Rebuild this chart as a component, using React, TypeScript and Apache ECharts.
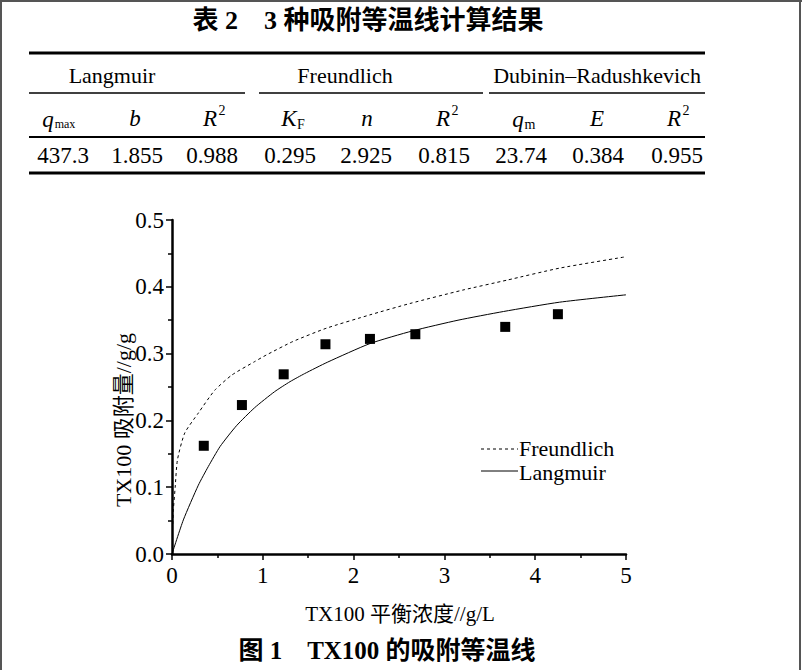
import React, { useEffect, useRef } from "react";
import * as echarts from "echarts";

// ---- table data ----
const TABLE_TITLE = "表 2　3 种吸附等温线计算结果";
const GROUPS = ["Langmuir", "Freundlich", "Dubinin–Radushkevich"];
const PARAM_VALUES = ["437.3", "1.855", "0.988", "0.295", "2.925", "0.815", "23.74", "0.384", "0.955"];

// ---- chart data ----
const EXP_C = [0.35, 0.77, 1.23, 1.69, 2.18, 2.68, 3.67, 4.25];
const EXP_Q = [0.162, 0.223, 0.269, 0.314, 0.322, 0.329, 0.34, 0.359];

const LANG_C = [0, 0.125, 0.29, 0.4, 0.53, 0.71, 0.91, 1.13, 1.3, 1.46, 1.71, 2.18, 2.65, 3.15, 3.65, 4.27, 5.0];
const LANG_Q = [0, 0.051, 0.103, 0.131, 0.161, 0.192, 0.219, 0.243, 0.258, 0.27, 0.287, 0.315, 0.334, 0.35, 0.363, 0.377, 0.388];

const FREU_C = [0.008, 0.015, 0.035, 0.06, 0.14, 0.29, 0.47, 0.66, 0.91, 1.04, 1.33, 1.7, 2.18, 2.62, 3.2, 3.69, 4.27, 5.0];
const FREU_Q = [0.045, 0.066, 0.1, 0.141, 0.181, 0.211, 0.245, 0.268, 0.288, 0.298, 0.318, 0.338, 0.358, 0.375, 0.395, 0.41, 0.428, 0.445];

const X_NAME = "TX100 平衡浓度//g/L";
const Y_NAME = "TX100 吸附量//g/g";
const CAPTION = "图 1　TX100 的吸附等温线";
const LEGEND = ["Freundlich", "Langmuir"];

const SERIF = "Liberation Serif, Noto Sans CJK SC";

function txt(text: string, x: number, y: number, size: number, opts: any = {}) {
  const style: any = {
    text,
    fill: "#000",
    fontFamily: SERIF,
    fontSize: size,
    align: opts.align || "center",
    verticalAlign: opts.valign || "middle",
  };
  if (opts.italic) style.fontStyle = "italic";
  if (opts.bold) style.fontWeight = "bold";
  return {
    type: "text",
    x,
    y,
    rotation: opts.rotation || 0,
    style,
  };
}

function hline(x1: number, x2: number, y: number, w: number, dash?: number[]) {
  return {
    type: "line",
    shape: { x1, y1: y, x2, y2: y },
    style: { stroke: "#000", lineWidth: w, lineDash: dash },
  };
}

export default function App() {
  const ref = useRef<HTMLDivElement>(null);
  useEffect(() => {
    if (!ref.current) return;
    const chart = echarts.init(ref.current, null, { renderer: "svg" });

    const valueX = [63, 137, 212, 290, 366, 444, 521, 598, 677];
    const graphics: any[] = [
      // frame
      { type: "line", shape: { x1: 0, y1: 1, x2: 802, y2: 1 }, style: { stroke: "#555", lineWidth: 2 } },
      { type: "line", shape: { x1: 1, y1: 0, x2: 1, y2: 670 }, style: { stroke: "#555", lineWidth: 2 } },
      { type: "line", shape: { x1: 800, y1: 0, x2: 800, y2: 670 }, style: { stroke: "#555", lineWidth: 2 } },
      // table
      txt(TABLE_TITLE, 368, 20, 26, { bold: true }),
      hline(29, 705, 53, 3),
      txt(GROUPS[0], 112, 75, 22),
      txt(GROUPS[1], 345, 75, 22),
      txt(GROUPS[2], 597, 75, 22),
      hline(29, 245, 93, 1.5),
      hline(259, 483, 93, 1.5),
      hline(489, 705, 93, 1.5),
      // sub headers
      txt("q", 48, 119, 23, { italic: true }),
      txt("max", 65, 124, 12),
      txt("b", 135, 118, 23, { italic: true }),
      txt("R", 210, 118, 23, { italic: true }),
      txt("2", 222, 110, 14),
      txt("K", 289, 118, 23, { italic: true }),
      txt("F", 301, 124, 14),
      txt("n", 367, 118, 23, { italic: true }),
      txt("R", 443, 118, 23, { italic: true }),
      txt("2", 455, 110, 14),
      txt("q", 518, 119, 23, { italic: true }),
      txt("m", 530, 124, 14),
      txt("E", 597, 118, 23, { italic: true }),
      txt("R", 674, 118, 23, { italic: true }),
      txt("2", 686, 110, 14),
      hline(29, 705, 137, 2),
      ...PARAM_VALUES.map((v, i) => txt(v, valueX[i], 155, 23)),
      hline(29, 705, 173, 3),
      // axis names
      txt(Y_NAME, 123, 420, 22, { rotation: Math.PI / 2 }),
      txt(X_NAME, 400, 614, 21),
      txt(CAPTION, 387, 650, 25, { bold: true }),
      // legend
      hline(481, 518, 449, 1, [3, 3]),
      txt(LEGEND[0], 519, 448, 22, { align: "left" }),
      hline(481, 518, 471, 1),
      txt(LEGEND[1], 519, 472, 22, { align: "left" }),
    ];

    const axisCommon = {
      axisLine: { show: true, lineStyle: { color: "#000", width: 2.5 } },
      axisTick: { show: true, inside: false, length: 6, lineStyle: { color: "#000", width: 1.5 } },
      minorTick: { show: true, splitNumber: 2, length: 4, lineStyle: { color: "#000", width: 1.5 } },
      splitLine: { show: false },
      minorSplitLine: { show: false },
    };

    chart.setOption({
      animation: false,
      backgroundColor: "#fff",
      grid: { left: 172, right: 176, top: 220, bottom: 116, containLabel: false },
      xAxis: {
        type: "value",
        min: 0,
        max: 5,
        interval: 1,
        ...axisCommon,
        axisLabel: { color: "#000", fontSize: 23, fontFamily: SERIF, margin: 10 },
      },
      yAxis: {
        type: "value",
        min: 0,
        max: 0.5,
        interval: 0.1,
        ...axisCommon,
        axisLabel: {
          color: "#000",
          fontSize: 23,
          fontFamily: SERIF,
          margin: 8,
          formatter: (v: number) => v.toFixed(1),
        },
      },
      series: [
        {
          name: "Freundlich",
          type: "line",
          data: FREU_C.map((c, i) => [c, FREU_Q[i]]),
          showSymbol: false,
          smooth: 0.2,
          lineStyle: { color: "#000", width: 1, type: [3, 3] },
        },
        {
          name: "Langmuir",
          type: "line",
          data: LANG_C.map((c, i) => [c, LANG_Q[i]]),
          showSymbol: false,
          smooth: 0.2,
          lineStyle: { color: "#000", width: 1 },
        },
        {
          name: "实验值",
          type: "scatter",
          data: EXP_C.map((c, i) => [c, EXP_Q[i]]),
          symbol: "rect",
          symbolSize: 10,
          itemStyle: { color: "#000", opacity: 1 },
        },
      ],
      graphic: graphics,
    });
    return () => chart.dispose();
  }, []);
  return (
    <div
      ref={ref}
      style={{ position: "fixed", left: 0, top: 0, width: 802, height: 670, background: "#fff" }}
    />
  );
}
